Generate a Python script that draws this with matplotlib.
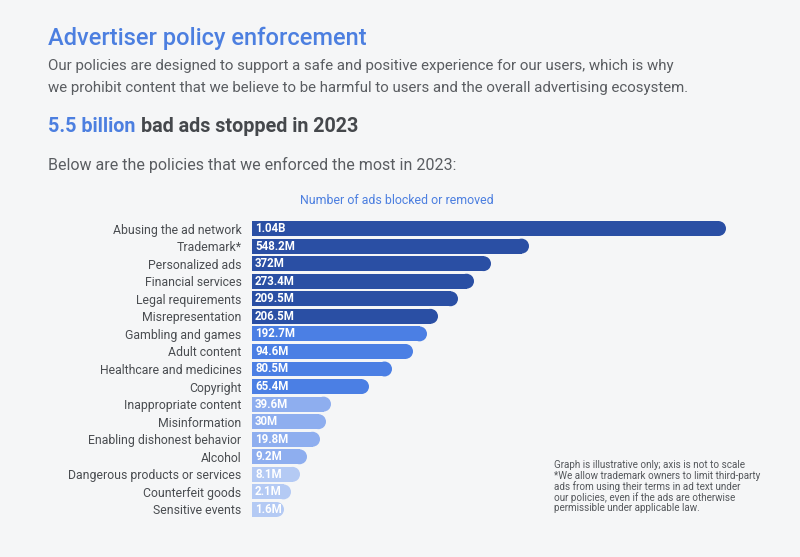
import matplotlib.pyplot as plt

# data
policies = ["Abusing the ad network", "Trademark*", "Personalized ads", "Financial services",
            "Legal requirements", "Misrepresentation", "Gambling and games", "Adult content",
            "Healthcare and medicines", "Copyright", "Inappropriate content", "Misinformation",
            "Enabling dishonest behavior", "Alcohol", "Dangerous products or services",
            "Counterfeit goods", "Sensitive events"]
value_labels = ["1.04B", "548.2M", "372M", "273.4M", "209.5M", "206.5M", "192.7M", "94.6M",
                "80.5M", "65.4M", "39.6M", "30M", "19.8M", "9.2M", "8.1M", "2.1M", "1.6M"]
# graph is illustrative, bar lengths are not to scale
bar_lengths = [474, 277, 239, 222, 206, 186, 175, 161, 140, 117, 79, 74, 68, 55, 48, 39, 32]
color_groups = [0, 0, 0, 0, 0, 0, 1, 1, 1, 1, 2, 2, 2, 2, 3, 3, 3]

palette = ["#2a4fa4", "#4b7fe4", "#8eaeef", "#b4caf4"]
bg = "#f5f6f7"
blue = "#4c7fe0"
gray = "#5a5d61"

plt.rcParams["font.family"] = ["Roboto", "DejaVu Sans"]

W, H = 800, 557
fig = plt.figure(figsize=(8, 5.57), dpi=100, facecolor=bg)

def px(x, y):
    return x / W, 1 - y / H

# header texts
fig.text(*px(48, 38), "Advertiser policy enforcement", color=blue, fontsize=17,
         fontweight="medium", va="center")
fig.text(*px(48, 66), "Our policies are designed to support a safe and positive experience for our users, which is why",
         color=gray, fontsize=10.8, va="center")
fig.text(*px(48, 88), "we prohibit content that we believe to be harmful to users and the overall advertising ecosystem.",
         color=gray, fontsize=10.8, va="center")
t1 = fig.text(*px(48, 127), "5.5 billion", color=blue, fontsize=14.2, fontweight="bold", va="center")
r = fig.canvas.get_renderer()
x2 = t1.get_window_extent(r).x1
fig.text(x2 / W + 0.007, 1 - 127 / H, "bad ads stopped in 2023", color="#45484c", fontsize=14.2,
         fontweight="bold", va="center")
fig.text(*px(48, 165), "Below are the policies that we enforced the most in 2023:", color=gray,
         fontsize=11.5, va="center")
fig.text(*px(397, 200), "Number of ads blocked or removed", color=blue, fontsize=8.9, ha="center", va="center")

# bar axes, 1 data unit = 1 pixel horizontally
left, right, top, bottom = 252, 740, 218, 520
ax = fig.add_axes([left / W, 1 - bottom / H, (right - left) / W, (bottom - top) / H])
ax.set_facecolor("none")
ax.set_xlim(0, right - left)
ax.set_ylim(16.6, -0.6)

spacing = (bottom - top) / 17.2
bar_h = 0.85
rad = bar_h * spacing / 2
ys = list(range(len(policies)))
cols = [palette[g] for g in color_groups]
ax.barh(ys, [b - rad for b in bar_lengths], height=bar_h, color=cols, linewidth=0)
ax.scatter([b - rad for b in bar_lengths], ys, s=(bar_h * spacing * 0.72) ** 2, color=cols,
           linewidths=0, zorder=2)

for y, lab in zip(ys, value_labels):
    ax.text(3, y, lab, color="white", fontsize=8.3, fontweight="bold", va="center", ha="left", zorder=3)

ax.set_yticks(ys)
ax.set_yticklabels(policies, fontsize=8.85, color="#4a4d51")
ax.tick_params(axis="y", length=0, pad=7.5)
ax.set_xticks([])
for s in ax.spines.values():
    s.set_visible(False)

note = ["Graph is illustrative only; axis is not to scale",
        "*We allow trademark owners to limit third-party",
        "ads from using their terms in ad text under",
        "our policies, even if the ads are otherwise",
        "permissible under applicable law."]
for i, line in enumerate(note):
    fig.text(*px(554, 465 + i * 10.8), line, color="#55585c", fontsize=7.1, va="center")

fig.savefig("out.png", dpi=100, facecolor=bg)
